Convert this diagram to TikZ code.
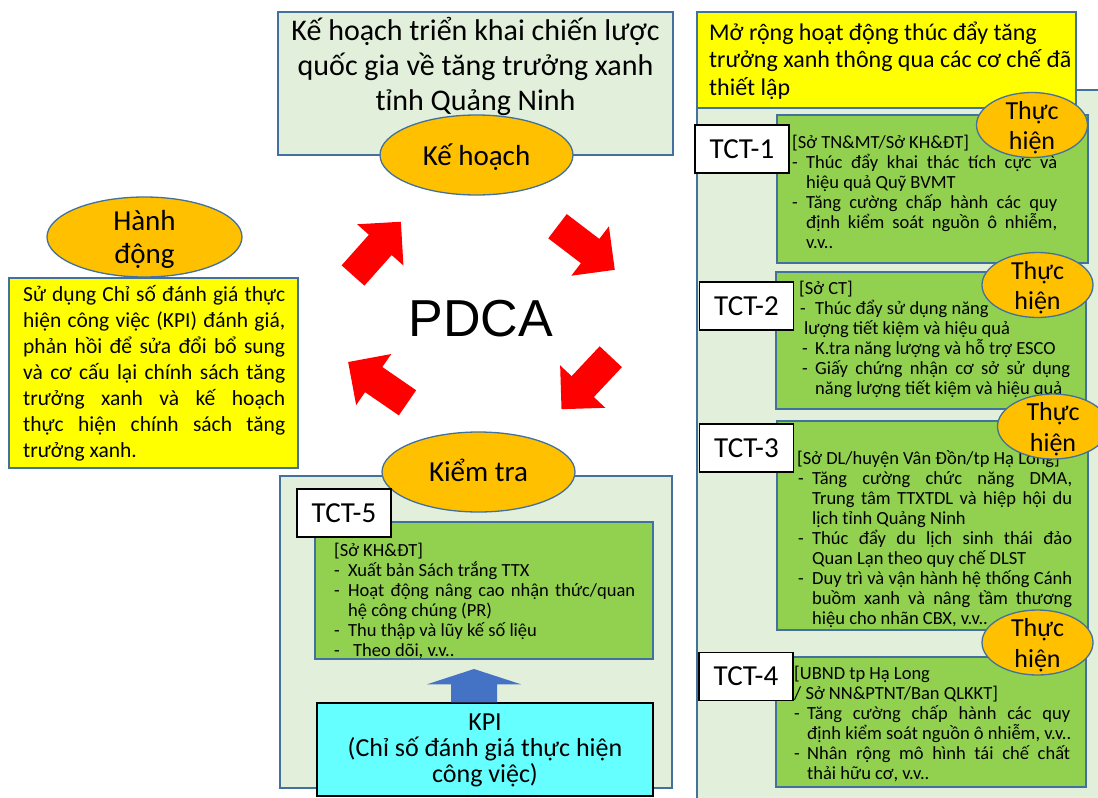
\documentclass[tikz,border=0pt]{standalone}
\usepackage{fontspec}
\setmainfont{Carlito}
\newfontfamily\pdcafont{Liberation Sans}
\usetikzlibrary{shapes.geometric,calc}

\definecolor{panelgreen}{RGB}{226,239,218}
\definecolor{edgeblue}{RGB}{65,113,156}
\definecolor{boxgreen}{RGB}{146,208,80}
\definecolor{stagegold}{RGB}{255,192,0}
\definecolor{noteyellow}{RGB}{255,255,0}
\definecolor{kpicyan}{RGB}{102,255,255}
\definecolor{liftblue}{RGB}{68,114,196}
\definecolor{cyclered}{RGB}{255,0,0}

% font size / baseline skip in pt
\newcommand\fs[2]{\fontsize{#1pt}{#2pt}\selectfont}
% a fully justified line of given width
\newcommand\jl[2]{\makebox[#1pt][s]{#2}}
% a dash bullet in a slot of given width
\newcommand\dsh[1]{\makebox[#1pt][l]{-}}
% one red arrow of the PDCA cycle: tail centre x, y and direction
\newcommand\cyclearrow[3]{%
  \begin{scope}[shift={(#1,#2)},rotate=#3]
    \fill[cyclered] (0,-15.25) -- (41,-15.25) -- (41,-31) -- (72,0)
      -- (41,31) -- (41,15.25) -- (0,15.25) -- cycle;
  \end{scope}}

% multi-line text nodes are placed by the baseline of their last line
\tikzset{
  panel/.style={draw=edgeblue, line width=1.3pt, fill=panelgreen},
  taskbox/.style={draw=edgeblue, line width=1.3pt, fill=boxgreen},
  stage/.style={ellipse, draw=edgeblue, line width=1.3pt, fill=stagegold, inner sep=0pt},
  dostage/.style={stage, minimum width=111pt, minimum height=65pt},
  bigstage/.style={stage, minimum width=193pt, minimum height=80pt},
  tag/.style={draw=black, line width=1.4pt, fill=white, minimum width=94pt,
    minimum height=48pt, inner sep=0pt, font=\fs{29}{34}},
  dotext/.style={anchor=base, align=center, inner sep=0pt, font=\fs{26}{30.5}},
  stagetext/.style={anchor=base, align=center, inner sep=0pt, font=\fs{29}{33}},
  tasktext/.style={anchor=base west, align=left, inner sep=0pt, font=\fs{18.5}{20}},
}

\begin{document}
\begin{tikzpicture}[x=1pt,y=-1pt]
\useasboundingbox (0,0) rectangle (1098,798);
\clip (0,0) rectangle (1098,798);

% ---------- Plan ----------
\node[panel, minimum width=395pt, minimum height=143pt] (plan) at (475.5,83.5) {};
\node[anchor=base, align=center, inner sep=0pt, font=\fs{30}{35}] (plantxt) at (475.5,110)
  {Kế hoạch triển khai chiến lược\\quốc gia về tăng trưởng xanh\\tỉnh Quảng Ninh};
\node[bigstage] (planstage) at (476.5,155) {};
\node[stagetext] (planlbl) at (476.5,165) {Kế hoạch};

% ---------- Do ----------
\node[panel, minimum width=413pt, minimum height=720pt] (dopanel) at (903.5,450) {};
\node[draw=edgeblue, line width=1.3pt, fill=noteyellow, minimum width=379pt,
  minimum height=96pt] (dohead) at (886.5,60) {};
\node[anchor=base west, align=left, inner sep=0pt, font=\fs{24}{27.5}] (doheadtxt) at (709,95)
  {Mở rộng hoạt động thúc đẩy tăng\\trưởng xanh thông qua các cơ chế đã\\thiết lập};

\node[taskbox, minimum width=311pt, minimum height=148pt] (g1) at (932.5,189) {};
\node[taskbox, minimum width=310pt, minimum height=137pt] (g2) at (931,340.5) {};
\node[taskbox, minimum width=311pt, minimum height=209pt] (g3) at (932.5,525.5) {};
\node[taskbox, minimum width=310pt, minimum height=130pt] (g4) at (931,722) {};

\node[tasktext] (t1) at (792,248) {%
  [Sở TN\&MT/Sở KH\&ĐT]\\
  \dsh{14}\jl{251}{Thúc đẩy khai thác tích cực và}\\
  \hspace*{14pt}hiệu quả Quỹ BVMT\\
  \dsh{14}\jl{251}{Tăng cường chấp hành các quy}\\
  \hspace*{14pt}\jl{251}{định kiểm soát nguồn ô nhiễm,}\\
  \hspace*{14pt}v.v..};

\node[tasktext] (t2) at (799,394) {%
  [Sở CT]\\
  \makebox[16pt][l]{\hspace*{1pt}-}Thúc đẩy sử dụng năng\\
  \hspace*{5pt}lượng tiết kiệm và hiệu quả\\
  \makebox[16pt][l]{\hspace*{3pt}-}K.tra năng lượng và hỗ trợ ESCO\\
  \makebox[16pt][l]{\hspace*{3pt}-}\jl{255}{Giấy chứng nhận cơ sở sử dụng}\\
  \hspace*{16pt}năng lượng tiết kiệm và hiệu quả};

\node[tasktext] (t3) at (797,624) {%
  [Sở DL/huyện Vân Đồn/tp Hạ Long]\\
  \makebox[15pt][l]{\hspace*{1pt}-}\jl{260}{Tăng cường chức năng DMA,}\\
  \hspace*{15pt}\jl{260}{Trung tâm TTXTDL và hiệp hội du}\\
  \hspace*{15pt}lịch tỉnh Quảng Ninh\\
  \makebox[15pt][l]{\hspace*{1pt}-}\jl{260}{Thúc đẩy du lịch sinh thái đảo}\\
  \hspace*{15pt}Quan Lạn theo quy chế DLST\\
  \makebox[15pt][l]{\hspace*{1pt}-}\jl{260}{Duy trì và vận hành hệ thống Cánh}\\
  \hspace*{15pt}\jl{260}{buồm xanh và nâng tầm thương}\\
  \hspace*{15pt}hiệu cho nhãn CBX, v.v..};

\node[tasktext] (t4) at (794,779) {%
  [UBND tp Hạ Long\\
  / Sở NN\&PTNT/Ban QLKKT]\\
  \dsh{13}\jl{263}{Tăng cường chấp hành các quy}\\
  \hspace*{13pt}định kiểm soát nguồn ô nhiễm, v.v..\\
  \dsh{13}\jl{263}{Nhân rộng mô hình tái chế chất}\\
  \hspace*{13pt}thải hữu cơ, v.v..};

\node[tag] (tag1) at (742,149) {TCT-1};
\node[tag] (tag2) at (746.5,306) {TCT-2};
\node[tag] (tag3) at (746.5,448) {TCT-3};
\node[tag] (tag4) at (746,676.5) {TCT-4};

\node[dostage] (do1) at (1032,125) {};
\node[dotext] (do1t) at (1032,149.5) {Thực\\hiện};
\node[dostage] (do2) at (1037.5,285) {};
\node[dotext] (do2t) at (1037.5,309.5) {Thực\\hiện};
\node[dostage] (do3) at (1053,426.5) {};
\node[dotext] (do3t) at (1053,451) {Thực\\hiện};
\node[dostage] (do4) at (1037.5,642.5) {};
\node[dotext] (do4t) at (1037.5,667) {Thực\\hiện};

% ---------- Act ----------
\node[bigstage, minimum width=195pt] (act) at (144.5,237) {};
\node[stagetext] (actlbl) at (144.5,263) {Hành\\động};
\node[draw=edgeblue, line width=1.3pt, fill=noteyellow, minimum width=289pt,
  minimum height=190pt] (actbox) at (153.5,373) {};
\node[anchor=base west, align=left, inner sep=0pt, font=\fs{21.5}{26}] (acttxt) at (23,457) {%
  \jl{262}{Sử dụng Chỉ số đánh giá thực}\\
  \jl{262}{hiện công việc (KPI) đánh giá,}\\
  \jl{262}{phản hồi để sửa đổi bổ sung}\\
  \jl{262}{và cơ cấu lại chính sách tăng}\\
  \jl{262}{trưởng xanh và kế hoạch}\\
  \jl{262}{thực hiện chính sách tăng}\\
  trưởng xanh.};

% ---------- Check ----------
\node[panel, minimum width=392pt, minimum height=312pt] (chkpanel) at (476,632) {};
\node[bigstage] (chk) at (478.5,472) {};
\node[stagetext] (chklbl) at (478.5,481) {Kiểm tra};
\node[taskbox, minimum width=338pt, minimum height=137pt] (g5) at (484,590.5) {};
\node[tag] (tag5) at (344,513) {TCT-5};
\node[tasktext] (t5) at (334,656) {%
  [Sở KH\&ĐT]\\
  \dsh{14}Xuất bản Sách trắng TTX\\
  \dsh{14}\jl{287}{Hoạt động nâng cao nhận thức/quan}\\
  \hspace*{14pt}hệ công chúng (PR)\\
  \dsh{14}Thu thập và lũy kế số liệu\\
  \dsh{19}Theo dõi, v.v..};

\node[draw=black, line width=1.4pt, fill=kpicyan, minimum width=336pt,
  minimum height=93pt] (kpi) at (485,749.5) {};
\node[anchor=base, align=center, inner sep=0pt, font=\fs{26}{26}] (kpitxt) at (485,782)
  {KPI\\(Chỉ số đánh giá thực hiện\\công việc)};

% upward block arrow from KPI to TCT-5
\coordinate (liftbase) at (kpi.north -| 474,0);
\coordinate (lifttip) at (474,669);
\fill[liftblue] ($(liftbase)+(-23,0)$) -- ($(liftbase)+(-23,-18)$) -- ($(liftbase)+(-47,-18)$)
  -- (lifttip) -- ($(liftbase)+(47,-18)$) -- ($(liftbase)+(23,-18)$) -- ($(liftbase)+(23,0)$) -- cycle;

% ---------- PDCA cycle ----------
\node[anchor=base, inner sep=0pt, font=\pdcafont\fs{52}{60}] (pdca) at (481,336) {PDCA};
\cyclearrow{353}{275.5}{48.3}
\cyclearrow{557.5}{226.2}{-37.3}
\cyclearrow{610.8}{356.7}{-133.2}
\cyclearrow{407.5}{402.8}{145.5}

\end{tikzpicture}
\end{document}
